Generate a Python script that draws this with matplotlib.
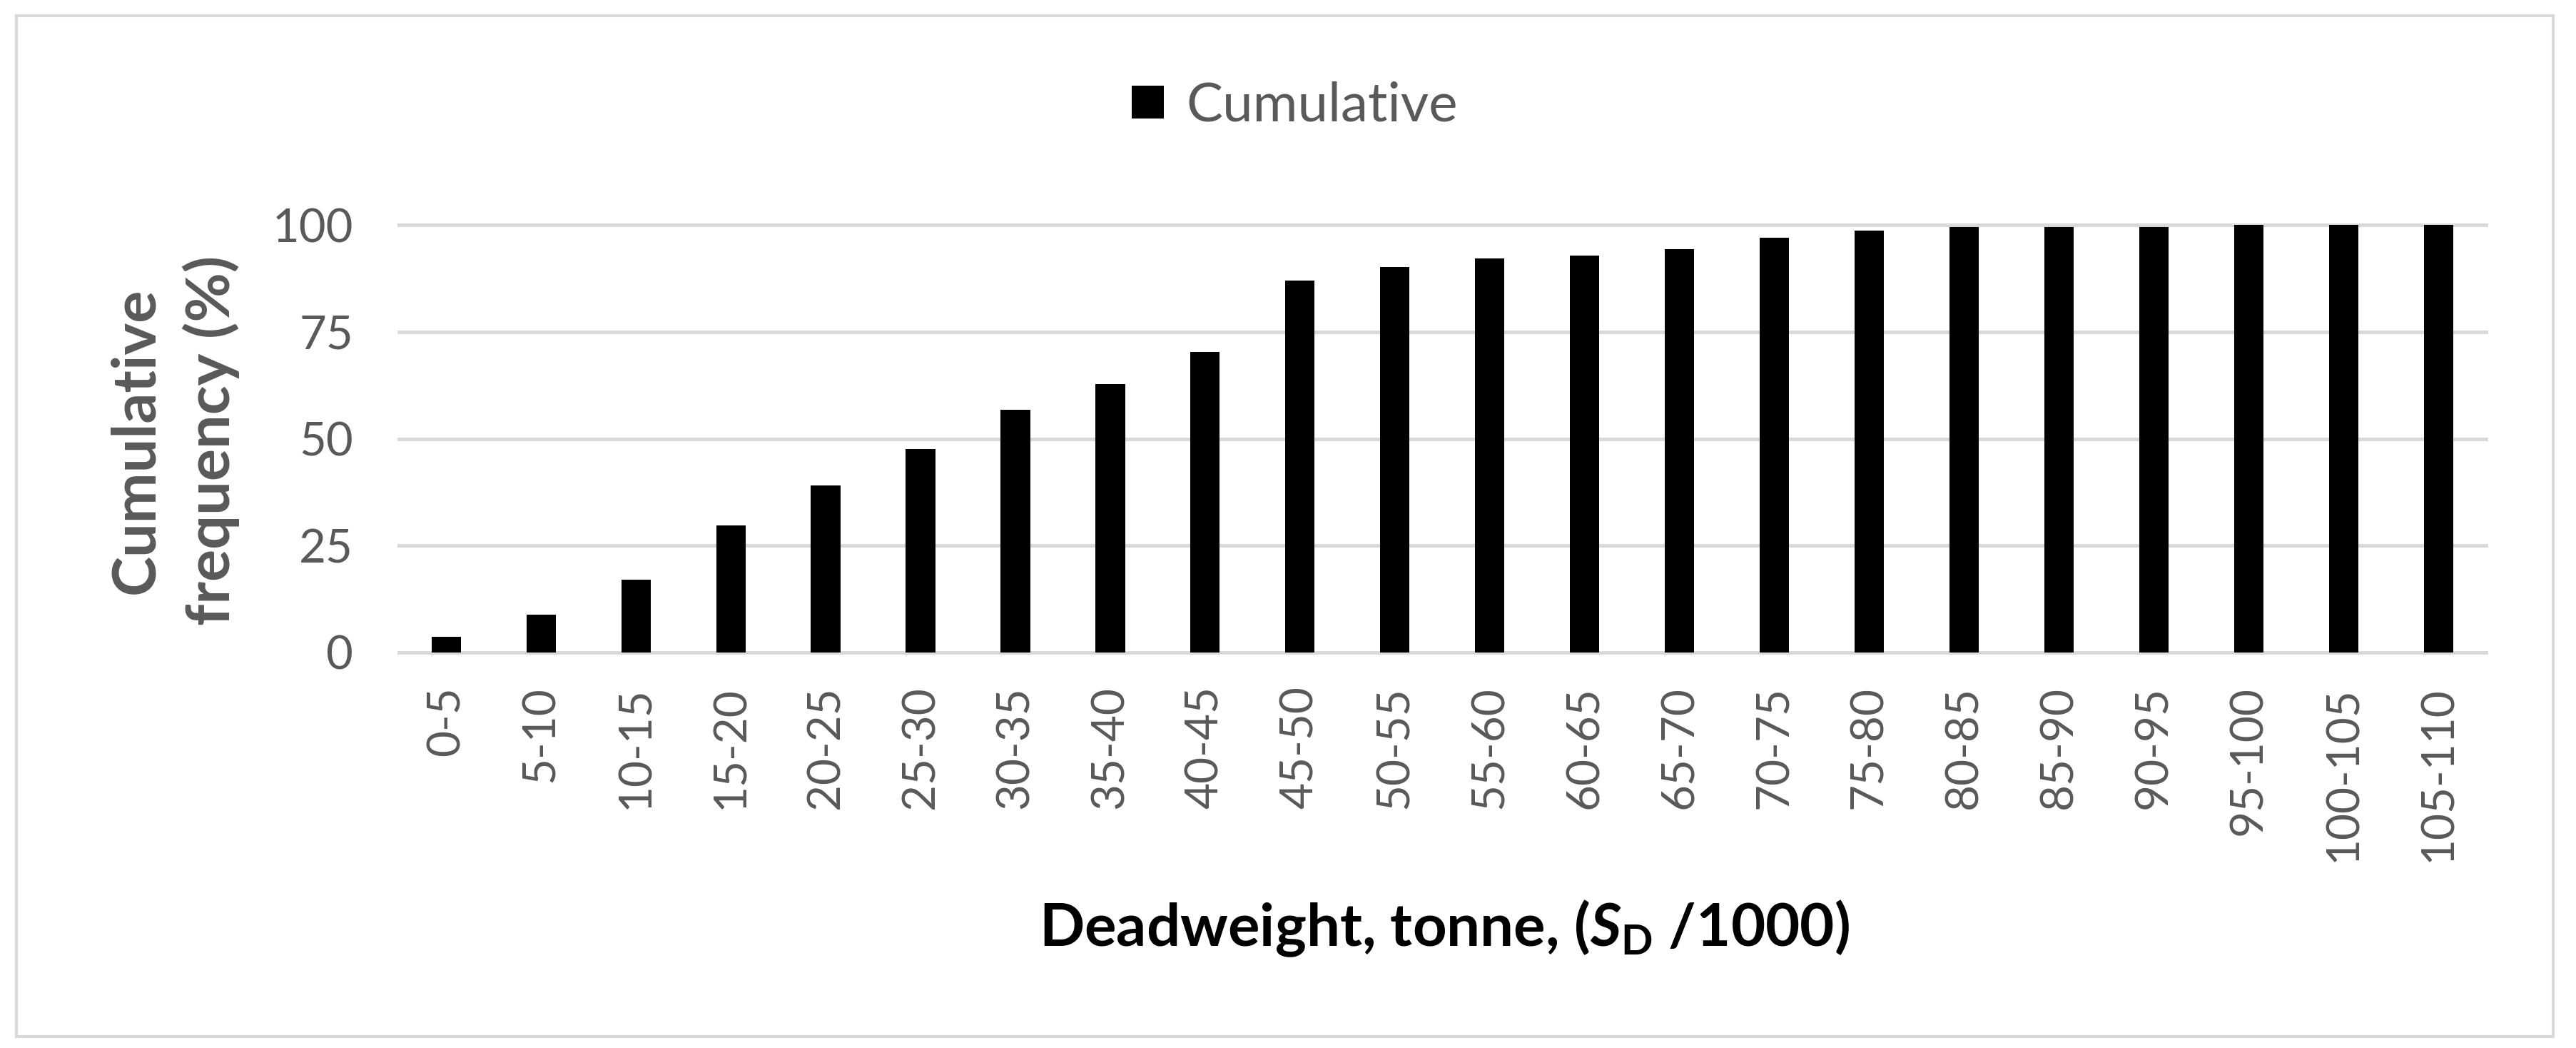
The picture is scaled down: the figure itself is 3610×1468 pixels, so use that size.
import matplotlib
matplotlib.use('Agg')
import matplotlib.pyplot as plt
from matplotlib.patches import Rectangle

plt.rcParams['font.family'] = ['Lato', 'DejaVu Sans']
plt.rcParams['mathtext.fontset'] = 'custom'
plt.rcParams['mathtext.rm'] = 'Lato:bold'
plt.rcParams['mathtext.it'] = 'Lato:bold:italic'

# Deadweight bins (thousand tonnes) and cumulative frequency (%)
bins = ['0-5', '5-10', '10-15', '15-20', '20-25', '25-30', '30-35', '35-40',
        '40-45', '45-50', '50-55', '55-60', '60-65', '65-70', '70-75', '75-80',
        '80-85', '85-90', '90-95', '95-100', '100-105', '105-110']
cumulative = [3.7, 8.9, 17.0, 29.7, 39.0, 47.6, 56.7, 62.8, 70.3, 87.0, 90.1,
              92.2, 92.9, 94.3, 97.0, 98.7, 99.5, 99.5, 99.5, 100, 100, 100]
yticks = [0, 25, 50, 75, 100]

grey = '#595959'
gridc = '#d9d9d9'

fig = plt.figure(figsize=(36.1, 14.68), dpi=100)
ax = fig.add_axes([0.1548, 0.3774, 0.8102, 0.408])

x = range(len(bins))
ax.bar(x, cumulative, width=0.31, color='black', zorder=3, label='Cumulative')

for t in yticks:
    ax.axhline(t, color=gridc, lw=3.5, zorder=1, clip_on=False)

ax.set_xlim(-0.5, len(bins) - 0.5)
ax.set_ylim(0, 100)
ax.set_yticks(yticks)
ax.set_xticks(list(x))
ax.set_xticklabels(bins, rotation=90)
ax.tick_params(axis='y', length=0, pad=46, labelsize=47, labelcolor=grey)
ax.tick_params(axis='x', length=0, pad=34, labelsize=46, labelcolor=grey)
for s in ax.spines.values():
    s.set_visible(False)

fig.text(0.0675, 0.5797, 'Cumulative\nfrequency (%)', rotation=90, ha='center',
         va='center', multialignment='center', fontsize=61, fontweight='bold',
         color=grey, linespacing=1.4)
fig.text(0.5606, 0.114, r'Deadweight, tonne, ($\mathit{S}_{\mathrm{D}}$ /1000)',
         ha='center', va='center', fontsize=60, fontweight='bold', color='black')

leg = fig.legend(loc='center', bbox_to_anchor=(0.5025, 0.899), frameon=False,
                 fontsize=55, handlelength=0.6, handleheight=0.55, handletextpad=0.4)
for t in leg.get_texts():
    t.set_color(grey)

fig.patches.append(Rectangle((0.0064, 0.0109), 0.9847, 0.9741, transform=fig.transFigure,
                             fill=False, edgecolor=gridc, lw=3))

fig.savefig('out.png', dpi=100, facecolor='white')
